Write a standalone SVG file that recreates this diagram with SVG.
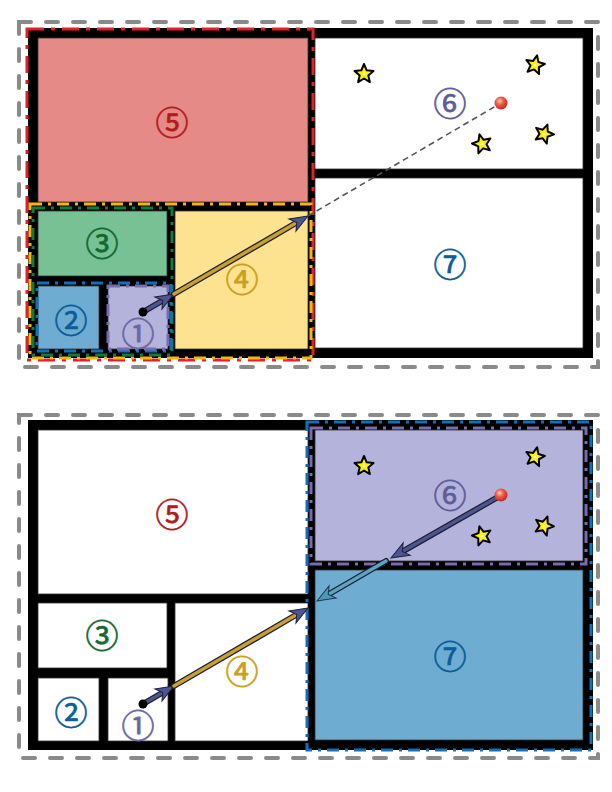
<svg xmlns="http://www.w3.org/2000/svg" width="612" height="792" viewBox="0 0 612 792">
<defs>
<style>
.frame{fill:none;stroke:#8a8a8a;stroke-width:4;stroke-dasharray:12 15;stroke-linecap:round}
.bldg{fill:#000}
.room{stroke:#333;stroke-width:0.8}
.lbl{font-family:"Noto Sans CJK JP","DejaVu Sans",sans-serif;font-size:33px;text-anchor:middle;dominant-baseline:central;stroke-width:0.7;stroke-linejoin:round}
.ov{fill:none;stroke-width:3}
.red{stroke:#e0202a;stroke-dasharray:17 7 4 7}
.yel{stroke:#f5b50f;stroke-dasharray:12 6 3 6}
.grn{stroke:#127a3a;stroke-dasharray:12 6 3 6}
.blu{stroke:#1070b8;stroke-dasharray:12 6 3 6}
.pur{stroke:#7a6ab0;stroke-dasharray:12 6 3 6}
.star{fill:#fff200;stroke:#000;stroke-width:2;stroke-linejoin:round}
.under{fill:none;stroke:#1e1e33;stroke-width:6;stroke-linecap:round}
.core{fill:none;stroke-width:3.4;stroke-linecap:round}
</style>
<marker id="hNavy" viewBox="-10 -9 22 18" markerWidth="22" markerHeight="18" refX="0" refY="0" orient="auto" markerUnits="userSpaceOnUse"><path d="M10,0 L-8,-7 L-3,0 L-8,7 Z" fill="#4d5590" stroke="#1e1e40" stroke-width="1"/></marker>
<marker id="hTeal" viewBox="-10 -9 22 18" markerWidth="22" markerHeight="18" refX="0" refY="0" orient="auto" markerUnits="userSpaceOnUse"><path d="M10,0 L-8,-7 L-3,0 L-8,7 Z" fill="#4f98b8" stroke="#1a3a50" stroke-width="1"/></marker>
<radialGradient id="ball" cx="0.4" cy="0.35" r="0.65"><stop offset="0" stop-color="#ffd0c0"/><stop offset="0.45" stop-color="#f05a45"/><stop offset="1" stop-color="#c0281a"/></radialGradient>
<path id="st" class="star" d="M0,-10 L2.65,-3.64 L9.51,-3.09 L4.28,1.39 L5.88,8.09 L0,4.5 L-5.88,8.09 L-4.28,1.39 L-9.51,-3.09 L-2.65,-3.64 Z"/>
</defs>

<!-- ================= TOP DIAGRAM ================= -->
<g id="top">
<rect id="top-frame" class="frame" x="19" y="22" width="579" height="345"/>
<rect id="top-building" class="bldg" x="28" y="28" width="565" height="330"/>
<g id="top-room5"><rect class="room" x="38" y="38" width="270" height="164" fill="#e68a87"/><text class="lbl" x="172" y="121" fill="#b01c1c" stroke="#b01c1c">⑤</text></g>
<g id="top-room6"><rect class="room" x="315" y="38" width="268" height="131" fill="#fff"/><text class="lbl" x="450" y="102" fill="#5f5b99" stroke="#5f5b99">⑥</text>
<use href="#st" transform="translate(364,74)"/><use href="#st" transform="translate(535,65) rotate(12)"/><use href="#st" transform="translate(482,144) rotate(-15)"/><use href="#st" transform="translate(544,134) rotate(20)"/>
<circle cx="364" cy="74" r="1.3" fill="#fff"/><circle cx="535" cy="65" r="1.3" fill="#fff"/><circle cx="482" cy="144" r="1.3" fill="#fff"/><circle cx="544" cy="134" r="1.3" fill="#fff"/></g>
<g id="top-room7"><rect class="room" x="315" y="178" width="268" height="170" fill="#fff"/><text class="lbl" x="450" y="263" fill="#0b5d99" stroke="#0b5d99">⑦</text></g>
<g id="top-room3"><rect class="room" x="38" y="211" width="129" height="65" fill="#78c195"/><text class="lbl" x="102" y="242" fill="#12692f" stroke="#12692f">③</text></g>
<g id="top-room2"><rect class="room" x="38" y="286" width="61" height="63" fill="#6eadd1"/><text class="lbl" x="71" y="319" fill="#0b5d99" stroke="#0b5d99">②</text></g>
<g id="top-room1"><rect class="room" x="108" y="286" width="60" height="63" fill="#b3b3db"/><text class="lbl" x="138" y="332" fill="#6a66a6" stroke="#6a66a6">①</text></g>
<g id="top-room4"><rect class="room" x="175" y="211" width="133" height="138" fill="#fde38f"/><text class="lbl" x="242" y="278" fill="#c9a021" stroke="#c9a021">④</text></g>
<g id="top-overlays">
<rect class="ov red" x="27" y="29" width="286" height="331"/>
<rect class="ov yel" x="30" y="204" width="281" height="154"/>
<rect class="ov grn" x="33" y="208" width="139" height="147"/>
<rect class="ov blu" x="37" y="283" width="134" height="68"/>
<rect class="ov pur" x="108" y="286" width="60" height="63" stroke-width="2.5"/>
</g>
</g>

<!-- ================= BOTTOM DIAGRAM ================= -->
<g id="bottom">
<rect id="bot-frame" class="frame" x="19" y="415" width="579" height="343"/>
<rect id="bot-building" class="bldg" x="28" y="420" width="565" height="330"/>
<g id="bot-room5"><rect class="room" x="38" y="430" width="270" height="164" fill="#fff"/><text class="lbl" x="172" y="513" fill="#b01c1c" stroke="#b01c1c">⑤</text></g>
<g id="bot-room6"><rect class="room" x="315" y="430" width="268" height="131" fill="#b3b3db"/><text class="lbl" x="450" y="494" fill="#5f5b99" stroke="#5f5b99">⑥</text>
<use href="#st" transform="translate(364,466)"/><use href="#st" transform="translate(535,457) rotate(12)"/><use href="#st" transform="translate(482,536) rotate(-15)"/><use href="#st" transform="translate(544,526) rotate(20)"/>
<circle cx="364" cy="466" r="1.3" fill="#fff"/><circle cx="535" cy="457" r="1.3" fill="#fff"/><circle cx="482" cy="536" r="1.3" fill="#fff"/><circle cx="544" cy="526" r="1.3" fill="#fff"/></g>
<g id="bot-room7"><rect class="room" x="315" y="570" width="268" height="170" fill="#6eadd1"/><text class="lbl" x="450" y="655" fill="#0b5d99" stroke="#0b5d99">⑦</text></g>
<g id="bot-room3"><rect class="room" x="38" y="603" width="129" height="65" fill="#fff"/><text class="lbl" x="102" y="634" fill="#12692f" stroke="#12692f">③</text></g>
<g id="bot-room2"><rect class="room" x="38" y="678" width="61" height="63" fill="#fff"/><text class="lbl" x="71" y="711" fill="#0b5d99" stroke="#0b5d99">②</text></g>
<g id="bot-room1"><rect class="room" x="108" y="678" width="60" height="63" fill="#fff"/><text class="lbl" x="138" y="724" fill="#6a66a6" stroke="#6a66a6">①</text></g>
<g id="bot-room4"><rect class="room" x="175" y="603" width="133" height="138" fill="#fff"/><text class="lbl" x="242" y="670" fill="#c9a021" stroke="#c9a021">④</text></g>
<g id="bot-overlays">
<rect class="ov blu" x="307" y="422" width="284" height="328"/>
<rect class="ov pur" x="311" y="428" width="275" height="136"/>
</g>
</g>

<!-- ================= CONNECTORS ================= -->
<g id="connectors">
<line x1="308" y1="216" x2="501" y2="103" stroke="#555" stroke-width="1.6" stroke-dasharray="6 4"/>
<path class="under" d="M143,312 L165.35,299.02"/><path class="core" stroke="#4d5590" d="M143,312 L165.35,299.02" marker-end="url(#hNavy)"/>
<path class="under" d="M174,294 L299.36,221.03"/><path class="core" stroke="#c8a030" d="M174,294 L299.36,221.03" marker-end="url(#hNavy)"/>
<circle cx="143" cy="312" r="4.5" fill="#000"/>
<circle cx="501" cy="103" r="6.5" fill="url(#ball)"/>

<path class="under" d="M143,704 L165.35,691.02"/><path class="core" stroke="#4d5590" d="M143,704 L165.35,691.02" marker-end="url(#hNavy)"/>
<path class="under" d="M174,686 L299.36,613.03"/><path class="core" stroke="#c8a030" d="M174,686 L299.36,613.03" marker-end="url(#hNavy)"/>
<circle cx="143" cy="704" r="4.5" fill="#000"/>
<path class="under" d="M498,497 L399.68,553.03"/><path class="core" stroke="#4d5590" d="M498,497 L399.68,553.03" marker-end="url(#hNavy)"/>
<path class="under" d="M386,561 L325.65,595.98"/><path class="core" stroke="#5aa6c0" d="M386,561 L325.65,595.98" marker-end="url(#hTeal)"/>
<circle cx="501" cy="495" r="6.5" fill="url(#ball)"/>
</g>
</svg>
